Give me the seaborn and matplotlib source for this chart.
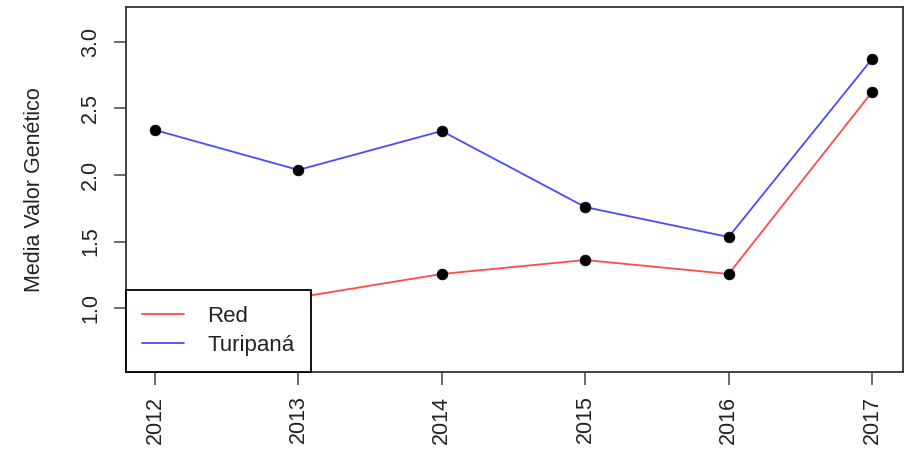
import matplotlib
matplotlib.use("Agg")
import matplotlib.pyplot as plt
import seaborn as sns
import pandas as pd
from matplotlib.lines import Line2D

years = [2012, 2013, 2014, 2015, 2016, 2017]
red_vals = [0.62, 1.08, 1.256, 1.361, 1.256, 2.624]
turi_vals = [2.338, 2.038, 2.331, 1.759, 1.534, 2.872]
series_names = ["Red", "Turipaná"]
series_colors = ["#ff4a4a", "#4a4aff"]
y_ticks = [1.0, 1.5, 2.0, 2.5, 3.0]

df = pd.DataFrame({
    "year": years * 2,
    "value": red_vals + turi_vals,
    "serie": [series_names[0]] * len(years) + [series_names[1]] * len(years),
})

sns.set_style("white")
plt.rcParams["font.family"] = ["Liberation Sans", "DejaVu Sans"]

FS = 15.5

fig = plt.figure(figsize=(9.06, 4.53), dpi=100)
ax = fig.add_axes([126 / 906, 1 - 372 / 453, (903 - 126) / 906, (372 - 7) / 453])

sns.lineplot(data=df, x="year", y="value", hue="serie", palette=series_colors,
             hue_order=series_names, ax=ax, legend=False, linewidth=1.3, zorder=2)
sns.scatterplot(data=df, x="year", y="value", color="black", s=60, ax=ax,
                legend=False, zorder=3, edgecolor="black", linewidth=0.5)

ax.set_xlim(2011.798, 2017.216)
ax.set_ylim(0.519, 3.263)
ax.set_xticks(years)
ax.set_xticklabels([str(y) for y in years], rotation=90, fontsize=FS, color="#222222")
ax.set_yticks(y_ticks)
ax.set_yticklabels([f"{v:.1f}" for v in y_ticks], rotation=90, va="center",
                   fontsize=FS, color="#222222")
ax.tick_params(axis="both", direction="out", length=9, width=1.1, color="#444444",
               left=True, bottom=True)
ax.tick_params(axis="x", pad=8)
ax.tick_params(axis="y", pad=9)
ax.set_xlabel("")
ax.set_ylabel("Media Valor Genético", fontsize=FS, color="#222222", labelpad=25)

for sp in ax.spines.values():
    sp.set_visible(True)
    sp.set_color("#333333")
    sp.set_linewidth(1.3)

handles = [Line2D([0], [0], color=c, lw=1.3) for c in series_colors]
leg = ax.legend(handles, series_names, loc="lower left", bbox_to_anchor=(0, 0),
                bbox_transform=ax.transAxes, borderaxespad=0, fancybox=False,
                framealpha=1, edgecolor="black", fontsize=16, handlelength=1.9,
                handletextpad=1.05, borderpad=0.72, labelspacing=0.38)
leg.get_frame().set_linewidth(1.3)
leg.set_zorder(10)
for t in leg.get_texts():
    t.set_color("#222222")

fig.savefig("out.png", dpi=100)
